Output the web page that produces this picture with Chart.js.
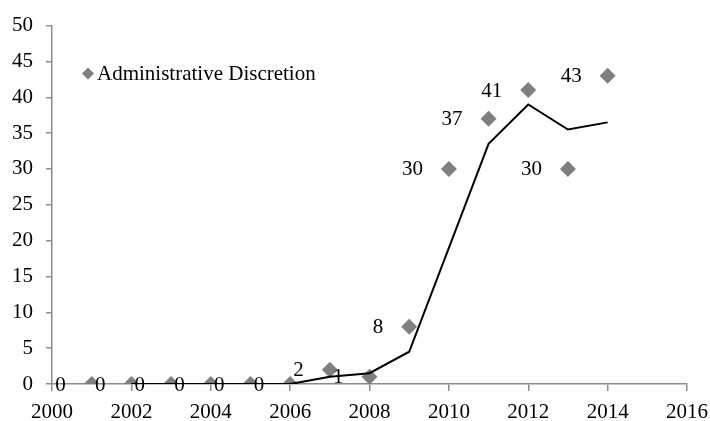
<!DOCTYPE html>
<html>
<head>
<meta charset="utf-8">
<script src="https://cdn.jsdelivr.net/npm/chart.js@4"></script>
<style>
  html, body { margin: 0; padding: 0; background: #fff; }
  #wrap { width: 710px; height: 421px; }
</style>
</head>
<body>
<div id="wrap"><canvas id="chart"></canvas></div>
<script>
// yearly counts
const years = [2001, 2002, 2003, 2004, 2005, 2006, 2007, 2008, 2009, 2010, 2011, 2012, 2013, 2014];
const counts = [0, 0, 0, 0, 0, 0, 2, 1, 8, 30, 37, 41, 30, 43];

// two-period moving average trend line
const trendYears = [2002, 2003, 2004, 2005, 2006, 2007, 2008, 2009, 2010, 2011, 2012, 2013, 2014];
const trendValues = [0, 0, 0, 0, 0, 1, 1.5, 4.5, 19, 33.5, 39, 35.5, 36.5];

const xTicks = [2000, 2002, 2004, 2006, 2008, 2010, 2012, 2014, 2016];
const yTicks = [0, 5, 10, 15, 20, 25, 30, 35, 40, 45, 50];

const seriesName = 'Administrative Discretion';
const markerColor = '#7f7f7f';
const axisColor = '#8c8c8c';
const fontFamily = "'Liberation Serif', 'Times New Roman', serif";
const fontSize = 21;

// value labels to the left of each marker
const pointLabels = {
    id: 'pointLabels',
    afterDatasetsDraw(chart) {
        const ctx = chart.ctx;
        const meta = chart.getDatasetMeta(0);
        ctx.save();
        ctx.font = fontSize + 'px ' + fontFamily;
        ctx.fillStyle = '#000';
        ctx.textAlign = 'right';
        ctx.textBaseline = 'middle';
        meta.data.forEach(function (pt, i) {
            ctx.fillText(String(counts[i]), pt.x - 26, pt.y + 1);
        });
        ctx.restore();
    }
};

// legend sits inside the plot area, top left
const innerLegend = {
    id: 'innerLegend',
    afterDraw(chart) {
        const ctx = chart.ctx;
        const area = chart.chartArea;
        const x = area.left + 36;
        const y = area.top + 48;
        ctx.save();
        ctx.fillStyle = markerColor;
        ctx.beginPath();
        ctx.moveTo(x, y - 6);
        ctx.lineTo(x + 6, y);
        ctx.lineTo(x, y + 6);
        ctx.lineTo(x - 6, y);
        ctx.closePath();
        ctx.fill();
        ctx.font = fontSize + 'px ' + fontFamily;
        ctx.fillStyle = '#000';
        ctx.textAlign = 'left';
        ctx.textBaseline = 'middle';
        ctx.fillText(seriesName, x + 9, y + 1);
        ctx.restore();
    }
};

new Chart(document.getElementById('chart').getContext('2d'), {
    type: 'scatter',
    data: {
        datasets: [
            {
                label: seriesName,
                data: years.map((yr, i) => ({ x: yr, y: counts[i] })),
                pointStyle: 'rectRot',
                pointRadius: 8,
                pointHoverRadius: 8,
                pointBackgroundColor: markerColor,
                pointBorderWidth: 0,
                showLine: false,
                order: 1
            },
            {
                label: 'trend',
                data: trendYears.map((yr, i) => ({ x: yr, y: trendValues[i] })),
                showLine: true,
                borderColor: '#000',
                borderWidth: 2,
                pointRadius: 0,
                tension: 0,
                order: 0
            }
        ]
    },
    options: {
        responsive: true,
        maintainAspectRatio: false,
        animation: false,
        layout: { padding: { top: 24, right: 23, left: 0, bottom: 0 } },
        plugins: {
            legend: { display: false },
            tooltip: { enabled: false }
        },
        scales: {
            x: {
                type: 'linear',
                min: 2000,
                max: 2016,
                afterBuildTicks: s => { s.ticks = xTicks.map(v => ({ value: v })); },
                afterFit: s => {
                    s.height = 37;
                    s.paddingLeft = 0;
                    s.paddingRight = 0;
                },
                border: { color: axisColor, width: 1.5 },
                grid: { drawOnChartArea: false, color: axisColor, tickLength: 7, lineWidth: 1.5 },
                ticks: {
                    color: '#000',
                    font: { family: fontFamily, size: fontSize },
                    padding: 9,
                    maxRotation: 0,
                    callback: v => String(v)
                }
            },
            y: {
                min: 0,
                max: 50,
                afterBuildTicks: s => { s.ticks = yTicks.map(v => ({ value: v })); },
                afterFit: s => { s.width = 52; },
                border: { color: axisColor, width: 1.5 },
                grid: { drawOnChartArea: false, color: axisColor, tickLength: 6, lineWidth: 1.5 },
                ticks: {
                    color: '#000',
                    font: { family: fontFamily, size: fontSize },
                    padding: 13,
                    callback: v => String(v)
                }
            }
        }
    },
    plugins: [pointLabels, innerLegend]
});
</script>
</body>
</html>
